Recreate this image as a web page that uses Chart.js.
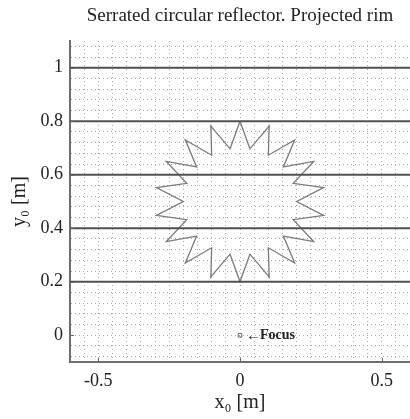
<!DOCTYPE html>
<html><head><meta charset="utf-8">
<script src="https://cdn.jsdelivr.net/npm/chart.js@4.4.0/dist/chart.umd.min.js"></script>
<style>html,body{margin:0;padding:0;background:#fff;}canvas{display:block;}</style>
</head><body>
<canvas id="c" width="410" height="419"></canvas>
<script>
// Projected rim of the serrated reflector (closed polygon, tips / notches alternating)
const starX = [0.000, 0.035, 0.103, 0.100, 0.193, 0.153, 0.260, 0.188, 0.295, 0.200,
               0.295, 0.188, 0.260, 0.153, 0.193, 0.100, 0.103, 0.035, 0.000, -0.035,
               -0.103, -0.100, -0.193, -0.153, -0.260, -0.188, -0.295, -0.200, -0.295, -0.188,
               -0.260, -0.153, -0.193, -0.100, -0.103, -0.035, 0.000];
const starY = [0.800, 0.697, 0.782, 0.673, 0.730, 0.629, 0.650, 0.568, 0.552, 0.500,
               0.448, 0.432, 0.350, 0.371, 0.270, 0.327, 0.218, 0.303, 0.200, 0.303,
               0.218, 0.327, 0.270, 0.371, 0.350, 0.432, 0.448, 0.500, 0.552, 0.568,
               0.650, 0.629, 0.730, 0.673, 0.782, 0.697, 0.800];
// Horizontal lines
const rimLevels = [0.2, 0.4, 0.6, 0.8, 1.0];
const rimSpan = [-0.6, 0.6];
// Focus point
const focusX = [0];
const focusY = [0];
// Tick labels
const xTickLabels = [-0.5, 0, 0.5];
const yTickLabels = [0, 0.2, 0.4, 0.6, 0.8, 1];

const SERIF = "'Liberation Serif', 'Times New Roman', serif";
Chart.defaults.color = '#222';

const datasets = [];
rimLevels.forEach(lv => {
  datasets.push({
    data: [{x: rimSpan[0], y: lv}, {x: rimSpan[1], y: lv}],
    showLine: true, borderColor: '#505050', borderWidth: 2, pointRadius: 0, fill: false
  });
});
datasets.push({
  data: starX.map((x, i) => ({x: x, y: starY[i]})),
  showLine: true, borderColor: '#7a7a7a', borderWidth: 1.3, pointRadius: 0, fill: false
});
datasets.push({
  data: focusX.map((x, i) => ({x: x, y: focusY[i]})),
  showLine: false, pointStyle: 'rect', pointRadius: 2.5, borderColor: '#666',
  backgroundColor: 'rgba(0,0,0,0)', borderWidth: 1
});

const near = (arr, v) => arr.some(t => Math.abs(t - v) < 1e-9);

const extras = {
  id: 'extras',
  afterDatasetsDraw(chart) {
    const {ctx, chartArea, scales} = chart;
    ctx.save();
    ctx.strokeStyle = '#666';
    ctx.lineWidth = 1;
    yTickLabels.forEach(v => {
      const py = Math.round(scales.y.getPixelForValue(v)) + 0.5;
      ctx.beginPath(); ctx.moveTo(chartArea.left, py); ctx.lineTo(chartArea.left + 4, py); ctx.stroke();
    });
    xTickLabels.forEach(v => {
      const px = Math.round(scales.x.getPixelForValue(v)) + 0.5;
      ctx.beginPath(); ctx.moveTo(px, chartArea.bottom); ctx.lineTo(px, chartArea.bottom - 4); ctx.stroke();
    });
    const fx = scales.x.getPixelForValue(focusX[0]);
    const fy = scales.y.getPixelForValue(focusY[0]);
    ctx.fillStyle = '#222';
    ctx.textBaseline = 'middle';
    ctx.textAlign = 'left';
    ctx.font = '15px ' + SERIF;
    ctx.fillText('\u2190', fx + 6, fy + 1);
    ctx.font = 'bold 14px ' + SERIF;
    ctx.fillText('Focus', fx + 20, fy);
    ctx.restore();
  }
};

const noPad = s => { s.paddingLeft = 0; s.paddingRight = 0; s.paddingTop = 0; s.paddingBottom = 0; };

new Chart(document.getElementById('c'), {
  type: 'scatter',
  data: {datasets},
  plugins: [extras],
  options: {
    responsive: false, animation: false, devicePixelRatio: 1,
    layout: {padding: 0, autoPadding: false},
    plugins: {
      legend: {display: false}, tooltip: {enabled: false},
      title: {
        display: true, text: 'Serrated circular reflector. Projected rim',
        font: {family: SERIF, size: 19, weight: 'normal'}, color: '#222',
        padding: {top: 5, bottom: 13.2}, fullSize: false
      }
    },
    scales: {
      x: {
        type: 'linear', min: -0.6, max: 0.6,
        afterBuildTicks: s => {
          const t = [];
          for (let k = -12; k <= 12; k++) t.push({value: Math.round(k * 5) / 100});
          s.ticks = t;
        },
        afterFit: s => { s.height = 57; noPad(s); },
        ticks: {
          autoSkip: false, maxRotation: 0, padding: 8,
          font: {family: SERIF, size: 18},
          callback: v => near(xTickLabels, v) ? String(Math.round(v * 10) / 10) : ''
        },
        grid: {color: '#a6a6a6', lineWidth: 1, drawTicks: false},
        border: {display: true, color: '#6e6e6e', width: 2, dash: [1, 3]},
        title: {display: true, text: 'x\u2080 [m]', font: {family: SERIF, size: 20},
                padding: {top: 0, bottom: 4}}
      },
      y: {
        type: 'linear', min: -0.1, max: 1.1,
        afterBuildTicks: s => {
          const t = [];
          for (let k = -2; k <= 27; k++) t.push({value: Math.round(k * 4) / 100});
          s.ticks = t;
        },
        afterFit: s => { s.width = 70; noPad(s); },
        ticks: {
          autoSkip: false, padding: 7,
          font: {family: SERIF, size: 18},
          callback: v => near(yTickLabels, v) ? String(Math.round(v * 10) / 10) : ''
        },
        grid: {color: '#a6a6a6', lineWidth: 1, drawTicks: false},
        border: {display: true, color: '#6e6e6e', width: 2, dash: [1, 3]},
        title: {display: true, text: 'y\u2080 [m]', font: {family: SERIF, size: 20},
                padding: {top: 8, bottom: 0}}
      }
    }
  }
});
</script>
</body></html>
